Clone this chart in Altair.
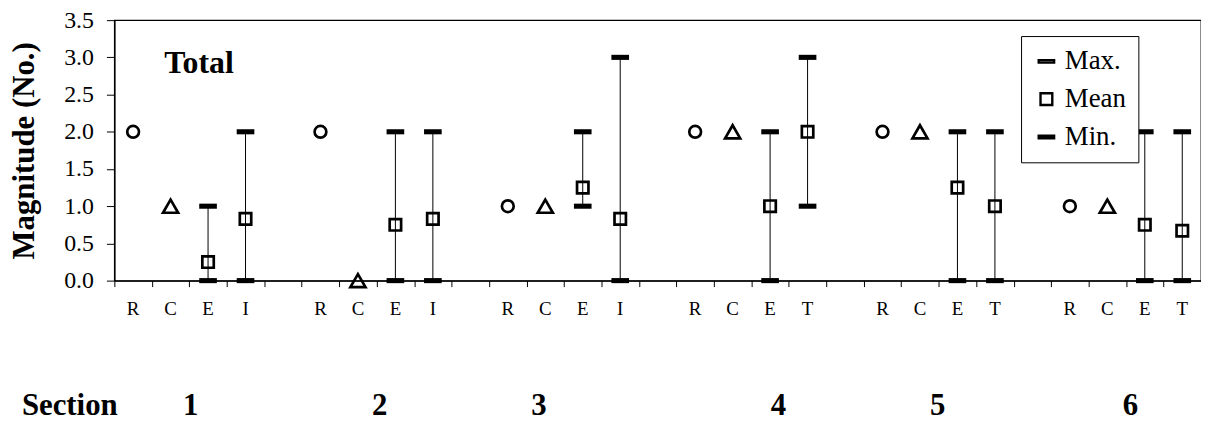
import altair as alt
import pandas as pd

sections = ["1", "2", "3", "4", "5", "6"]
categories = [["R", "C", "E", "I"], ["R", "C", "E", "I"], ["R", "C", "E", "I"],
              ["R", "C", "E", "T"], ["R", "C", "E", "T"], ["R", "C", "E", "T"]]
r_vals = [2, 2, 1, 2, 2, 1]
c_vals = [1, 0, 1, 2, 2, 1]
e_max = [1, 2, 2, 2, 2, 2]
e_mean = [0.25, 0.75, 1.25, 1.0, 1.25, 0.75]
e_min = [0, 0, 1, 0, 0, 0]
t_max = [2, 2, 3, 3, 2, 2]
t_mean = [0.83, 0.83, 0.83, 2.0, 1.0, 0.67]
t_min = [0, 0, 0, 1, 0, 0]
section_label_pos = [2.04, 7.08, 11.33, 17.72, 21.97, 27.12]
y_ticks = [0, 0.5, 1, 1.5, 2, 2.5, 3, 3.5]

SERIF = "'Liberation Serif', 'Times New Roman', 'DejaVu Serif', serif"
DASH = "M-1.31,-0.21H1.31V0.21H-1.31Z"

# build tables
cat_rows, circ, tri, bars, stats = [], [], [], [], []
for s in range(6):
    base = s * 5
    for j, c in enumerate(categories[s]):
        cat_rows.append({"x": base + j + 0.5, "label": c})
    circ.append({"x": base + 0.5, "v": r_vals[s]})
    tri.append({"x": base + 1.5, "v": c_vals[s]})
    for j, (mx, mn, me) in enumerate([(e_max[s], e_min[s], e_mean[s]),
                                       (t_max[s], t_min[s], t_mean[s])]):
        x = base + 2.5 + j
        bars.append({"x": x, "lo": mn, "hi": mx})
        stats.append({"x": x, "v": mx, "stat": "Max."})
        stats.append({"x": x, "v": me, "stat": "Mean"})
        stats.append({"x": x, "v": mn, "stat": "Min."})

cat_df = pd.DataFrame(cat_rows)
circ_df = pd.DataFrame(circ)
tri_df = pd.DataFrame(tri)
bar_df = pd.DataFrame(bars)
stat_df = pd.DataFrame(stats)
sec_df = pd.DataFrame({"x": [-1.19] + section_label_pos,
                       "label": ["Section"] + sections})

xscale = alt.Scale(domain=[0, 29], nice=False, zero=False)
yscale = alt.Scale(domain=[0, 3.5], nice=False)

xaxis = alt.Axis(values=list(range(0, 30)), labels=False, title=None, grid=False,
                 tickSize=6, tickColor="black", domainColor="black", tickWidth=1,
                 domainWidth=1.3)
yaxis = alt.Axis(values=y_ticks, format=".1f", title="Magnitude (No.)", grid=False,
                 labelFont=SERIF, labelFontSize=24, labelColor="black",
                 titleFont=SERIF, titleFontSize=31, titleFontWeight="bold",
                 titleColor="black", titlePadding=23, tickSize=8,
                 tickColor="black", domainColor="black", labelPadding=13,
                 domainWidth=1.3)

X = lambda: alt.X("x:Q", scale=xscale, axis=xaxis)
Y = lambda f: alt.Y(f, scale=yscale, axis=yaxis)

rules = alt.Chart(bar_df).mark_rule(color="black", strokeWidth=1).encode(
    x=X(), y=Y("lo:Q"), y2="hi:Q")

circles = alt.Chart(circ_df).mark_point(
    shape="circle", size=140, filled=False, stroke="black", strokeWidth=2.7,
    opacity=1).encode(x=X(), y=Y("v:Q"))

triangles = alt.Chart(tri_df).mark_point(
    shape="triangle-up", size=230, filled=False, stroke="black", strokeWidth=2.7,
    opacity=1).encode(x=X(), y=Y("v:Q"))

statpts = alt.Chart(stat_df).mark_point(
    size=132, filled=False, stroke="black", strokeWidth=2.7, opacity=1).encode(
    x=X(), y=Y("v:Q"),
    shape=alt.Shape("stat:N", scale=alt.Scale(domain=["Max.", "Mean", "Min."],
                                              range=[DASH, "square", DASH]),
                    legend=alt.Legend(title=None, orient="none", legendX=912,
                                      legendY=16, labelFont=SERIF, labelFontSize=27,
                                      labelColor="black", strokeColor="black",
                                      fillColor="white", padding=12,
                                      symbolSize=140, symbolStrokeWidth=2.4,
                                      symbolStrokeColor="black",
                                      symbolFillColor="white",
                                      rowPadding=10, labelOffset=5)),
)

cat_text = alt.Chart(cat_df).mark_text(
    font=SERIF, fontSize=19, dy=29, color="black").encode(
    x=X(), y=alt.Y("y:Q", scale=yscale, axis=yaxis), text="label:N"
).transform_calculate(y="0")

sec_text = alt.Chart(sec_df).mark_text(
    font=SERIF, fontSize=31, fontWeight="bold", dy=126, color="black").encode(
    x=X(), y=alt.Y("y:Q", scale=yscale, axis=yaxis), text="label:N"
).transform_calculate(y="0")

total = alt.Chart(pd.DataFrame({"x": [1.33], "y": [2.92], "label": ["Total"]})).mark_text(
    font=SERIF, fontSize=32, fontWeight="bold", align="left", color="black").encode(
    x=X(), y=alt.Y("y:Q", scale=yscale, axis=yaxis), text="label:N")

chart = alt.layer(rules, circles, triangles, statpts, cat_text, sec_text,
                  total).properties(
    width=1093, height=262,
    autosize=alt.AutoSizeParams(type="none"),
    padding={"left": 107, "top": 11, "right": 0, "bottom": 141},
).configure_view(stroke="black", strokeWidth=1.3)

chart.save("out.html", embed_options={"renderer": "svg", "actions": False})
